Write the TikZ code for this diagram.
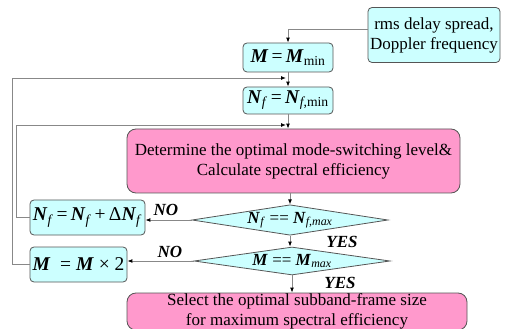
\documentclass[tikz,border=0pt]{standalone}
\usepackage{fontspec}
\setmainfont{Liberation Serif}
\usetikzlibrary{shapes.geometric,arrows.meta,positioning}
\definecolor{boxcyan}{HTML}{CCFFFF}
\definecolor{boxpink}{HTML}{FF99CC}
\definecolor{edgegray}{HTML}{555555}
\definecolor{wiregray}{HTML}{888888}
\def\symM{\textbf{\textit{M}}}
\def\symN{\textbf{\textit{N}}}
\def\subf{\textsubscript{\textit{f}}}

\begin{document}
\begin{tikzpicture}[x=1pt,y=-1pt,
    every node/.style={font=\fontsize{17}{20}\selectfont},
    cbox/.style={draw=edgegray,fill=boxcyan,line width=0.8pt,rounded corners=4pt,inner sep=0pt,align=center},
    eqn/.style={font=\fontsize{19.5}{22}\selectfont},
    pbox/.style={draw=edgegray,fill=boxpink,line width=0.8pt,rounded corners=9pt,inner sep=0pt,align=center},
    dmd/.style={diamond,draw=edgegray,fill=boxcyan,line width=0.8pt,inner sep=0pt,aspect=6},
    flow/.style={wiregray,line width=0.9pt,-{Latex[length=5pt,width=4pt,color=black]}},
    lbl/.style={font=\fontsize{17}{17}\selectfont\bfseries\itshape}]
    \useasboundingbox (0,0) rectangle (507,329);

    % Boxes
    \node[cbox,minimum width=132,minimum height=55] (rms) at (434,35) {rms delay spread,\\Doppler frequency};
    \node[cbox,eqn,minimum width=90,minimum height=29] (mmin) at (288,57.5) {\symM\,=\,\symM\textsubscript{min}};
    \node[cbox,eqn,minimum width=90,minimum height=27] (nfmin) at (288,100.5) {\symN\subf\,=\,\symN\textsubscript{\textit{f},min}};
    \node[pbox,minimum width=333,minimum height=64] (calc) at (293.5,161) {Determine the optimal mode-switching level\&\\Calculate spectral efficiency};
    \node[dmd,minimum width=196,minimum height=30] (nfmax) at (290,220) {\symN\subf\ == \symN\textsubscript{\textit{f,max}}};
    \node[dmd,minimum width=196,minimum height=28] (mmax) at (292,261) {\symM\ == \symM\textsubscript{\textit{max}}};
    \node[cbox,eqn,minimum width=115,minimum height=35] (nfinc) at (87.5,217.5) {\symN\subf\,=\,\symN\subf\,+\,Δ\symN\subf};
    \node[cbox,eqn,minimum width=97,minimum height=35] (mdbl) at (78.5,264.5) {\symM\ \ =\ \symM\ \texttimes\ 2};
    \node[pbox,minimum width=340,minimum height=37] (sel) at (297,311.5) {Select the optimal subband-frame size\\for maximum spectral efficiency};

    % Junctions of the loops
    \coordinate (j1) at (286,78);
    \coordinate (j2) at (286,125);

    % Connectors
    \draw[flow] ([yshift=6pt]rms.west) -| (mmin.north);
    \draw[flow] (mmin.south) -- (mmin.south |- nfmin.north);
    \draw[flow] (nfmin.south) -- (nfmin.south |- calc.north);
    \draw[flow] (calc.south -| nfmax.north) -- (nfmax.north);
    \draw[flow] (nfmax.south) -- (nfmax.south |- mmax.north);
    \draw[flow] (mmax.south) -- (mmax.south |- sel.north);
    \draw[flow] (nfmax.west) -- (nfmax.west -| nfinc.east);
    \draw[flow] (mmax.west) -- (mmax.west -| mdbl.east);
    \draw[flow] (nfinc.west) -- ++(-13,0) |- (j2);
    \draw[flow] (mdbl.west) -- ++(-17,0) |- (j1);

    % Labels
    \node[lbl] (no1) at (166,210) {NO};
    \node[lbl] (no2) at (170,252) {NO};
    \node[lbl] (yes1) at (342,242) {YES};
    \node[lbl] (yes2) at (340,283) {YES};
\end{tikzpicture}
\end{document}
